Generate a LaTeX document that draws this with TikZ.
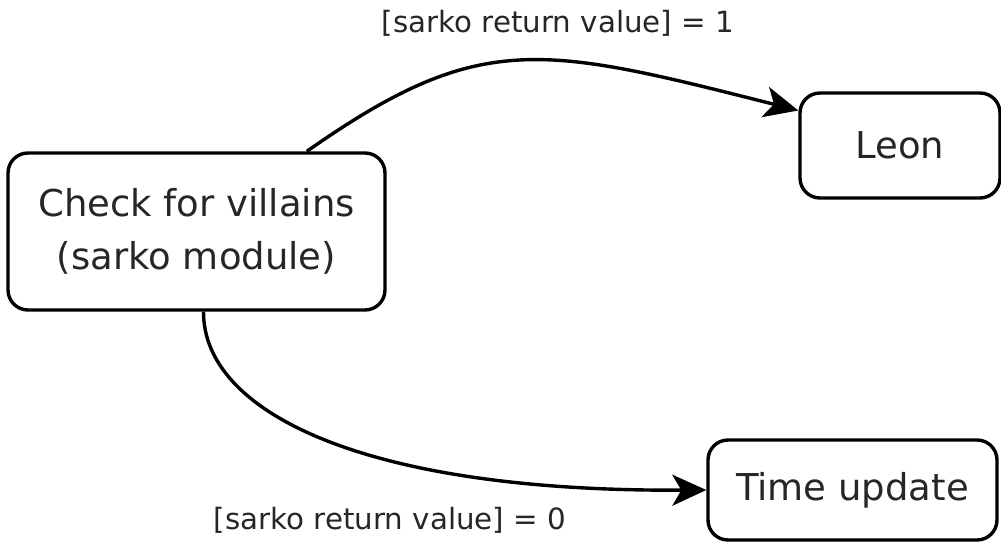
\documentclass[tikz,border=0pt]{standalone}
\usepackage{fontspec}
\setmainfont{DejaVu Sans}
\usetikzlibrary{arrows.meta}
\begin{document}
\begin{tikzpicture}[x=1pt,y=-1pt,
  state/.style={draw, line width=3.4pt, rounded corners=20pt, inner sep=0pt,
    align=center, font=\fontsize{37}{53}\selectfont, text=black!85},
  trans/.style={line width=3.4pt, -{Stealth[length=34pt,width=31pt,inset=9pt]}},
  guard/.style={font=\fontsize{29.3}{34}\selectfont, text=black!85, inner sep=0pt}]
\useasboundingbox (0,0) rectangle (1001,545);
\node[state, minimum width=377pt, minimum height=157pt] (check) at (196.5,231.5)
  {Check for villains\\(sarko module)};
\node[state, minimum width=200pt, minimum height=105pt] (leon) at (900,145.5) {Leon};
\node[state, minimum width=289pt, minimum height=100pt] (tu) at (852.5,490) {Time update};
\node[guard] (g1) at (558,23) {[sarko return value] = 1};
\node[guard] (g0) at (390,520) {[sarko return value] = 0};
\draw[trans] (check.36) .. controls (480,30) and (540,45) .. (leon.161);
\draw[trans] (check.-85) .. controls (203,410) and (358,492) .. (tu.west);
\end{tikzpicture}
\end{document}
